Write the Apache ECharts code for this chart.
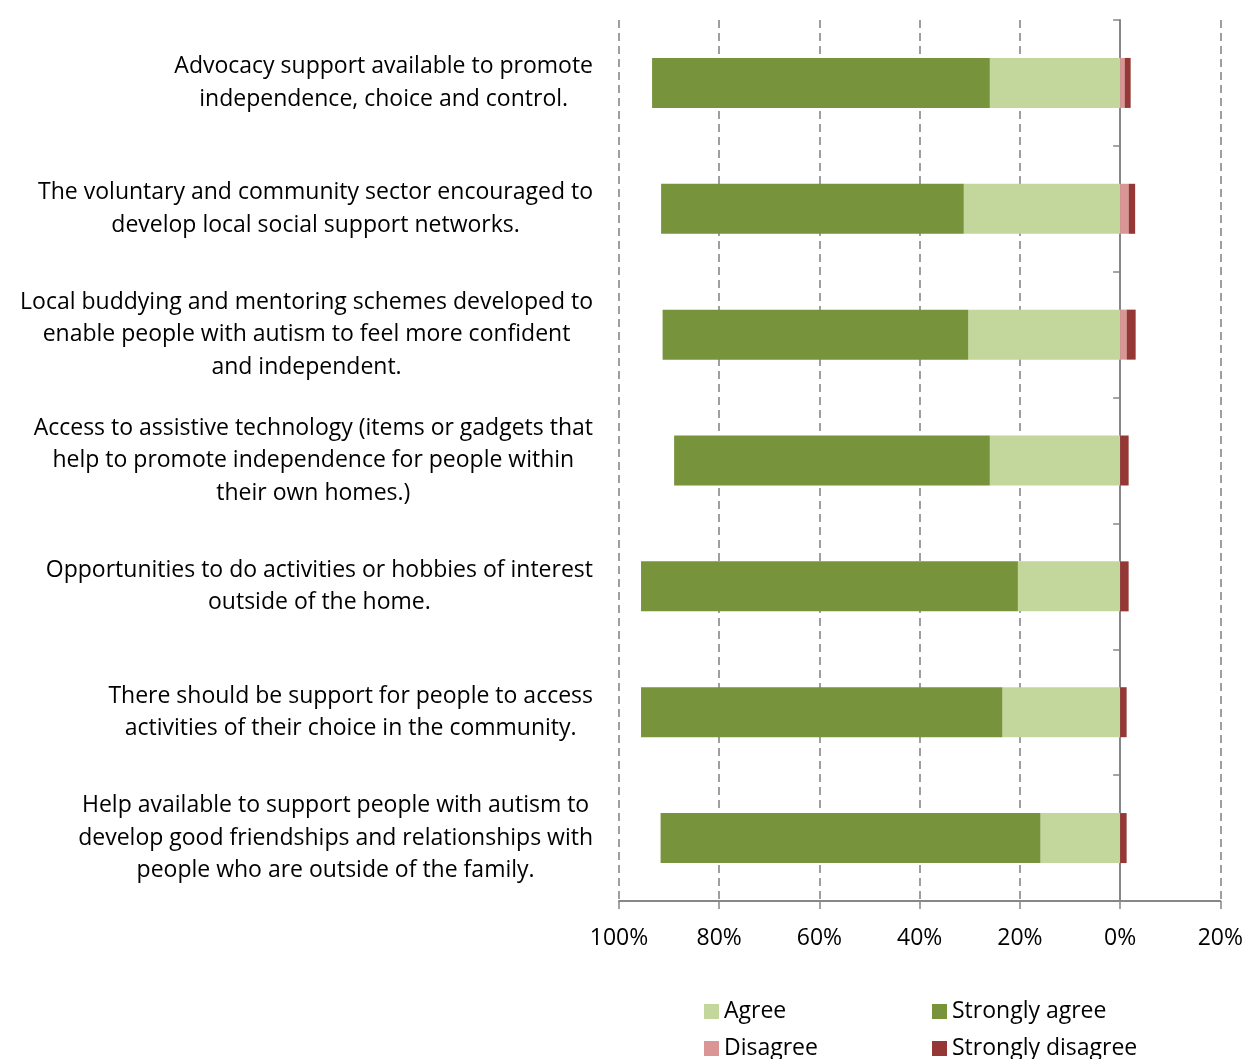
<!DOCTYPE html>
<html>
<head>
<meta charset="utf-8">
<script src="https://cdn.jsdelivr.net/npm/echarts@6/dist/echarts.min.js"></script>
<style>
  html, body { margin: 0; padding: 0; background: #fff; }
  #chart { width: 1246px; height: 1059px; }
</style>
</head>
<body>
<div id="chart"></div>
<script>
const categories = [
  'Advocacy support available to promote\nindependence, choice and control.',
  'The voluntary and community sector encouraged to\ndevelop local social support networks.',
  'Local buddying and mentoring schemes developed to\nenable people with autism to feel more confident\nand independent.',
  'Access to assistive technology (items or gadgets that\nhelp to promote independence for people within\ntheir own homes.)',
  'Opportunities to do activities or hobbies of interest\noutside of the home.',
  'There should be support for people to access\nactivities of their choice in the community.',
  'Help available to support people with autism to\ndevelop good friendships and relationships with\npeople who are outside of the family.'
]
// percentages
const agree = [26.0, 31.2, 30.3, 26.0, 20.4, 23.5, 15.9]
const stronglyAgree = [67.4, 60.4, 61.0, 63.0, 75.2, 72.1, 75.8]
const disagree = [0.9, 1.7, 1.3, 0, 0, 0, 0]
const stronglyDisagree = [1.2, 1.3, 1.8, 1.7, 1.7, 1.3, 1.3]

const FONT = 'Open Sans'
const FS = 23
const gridColor = '#878787'

const chart = echarts.init(document.getElementById('chart'), null, {renderer: 'canvas'})

const bar = (name, vals, color, sign) => ({
  name,
  type: 'bar',
  stack: 'total',
  barWidth: 50,
  yAxisIndex: 0,
  itemStyle: {color},
  data: vals.map((v) => sign * v),
})

// two vertical legends side by side give the 2x2 layout
const legendBase = {
  orient: 'vertical',
  top: 1000,
  height: 100,
  padding: 0,
  icon: 'rect',
  itemWidth: 15,
  itemHeight: 15,
  itemGap: 14,
  textStyle: {fontFamily: FONT, fontSize: FS, color: '#000'},
}

chart.setOption({
  animation: false,
  grid: {left: 619, right: 25, top: 20, bottom: 158, containLabel: false},
  legend: [
    {...legendBase, left: 704, data: ['Agree', 'Disagree']},
    {...legendBase, left: 932, data: ['Strongly agree', 'Strongly disagree']},
  ],
  xAxis: {
    type: 'value',
    min: -100,
    max: 20,
    interval: 20,
    axisLine: {show: true, onZero: false, lineStyle: {color: gridColor, width: 2}},
    axisTick: {show: true, length: 8, lineStyle: {color: gridColor, width: 1.5}},
    axisLabel: {
      margin: 26,
      fontFamily: FONT,
      fontSize: FS,
      color: '#000',
      formatter: (v) => Math.abs(v) + '%',
    },
    splitLine: {show: true, lineStyle: {color: gridColor, type: [8, 5], width: 1.6}},
  },
  yAxis: [
    {
      // axis line at 0 with the category ticks
      type: 'category',
      inverse: true,
      data: categories,
      axisLine: {show: true, onZero: true, lineStyle: {color: gridColor, width: 2}},
      axisTick: {show: true, length: 7, lineStyle: {color: gridColor, width: 1.5}},
      axisLabel: {show: false},
      splitLine: {show: false},
    },
    {
      // labels only, on the left of the plot
      type: 'category',
      inverse: true,
      position: 'left',
      data: categories,
      axisLine: {show: false},
      axisTick: {show: false},
      splitLine: {show: false},
      axisLabel: {
        margin: 26,
        align: 'right',
        formatter: (v) => v.split('\n').map((l) => '{c|' + l + '}').join('\n'),
        rich: {
          c: {align: 'center', fontFamily: FONT, fontSize: FS, color: '#000', lineHeight: 32.5},
        },
      },
    },
  ],
  series: [
    bar('Agree', agree, '#C3D69B', -1),
    bar('Strongly agree', stronglyAgree, '#77933C', -1),
    bar('Disagree', disagree, '#D99694', 1),
    bar('Strongly disagree', stronglyDisagree, '#953735', 1),
  ],
})
</script>
</body>
</html>
